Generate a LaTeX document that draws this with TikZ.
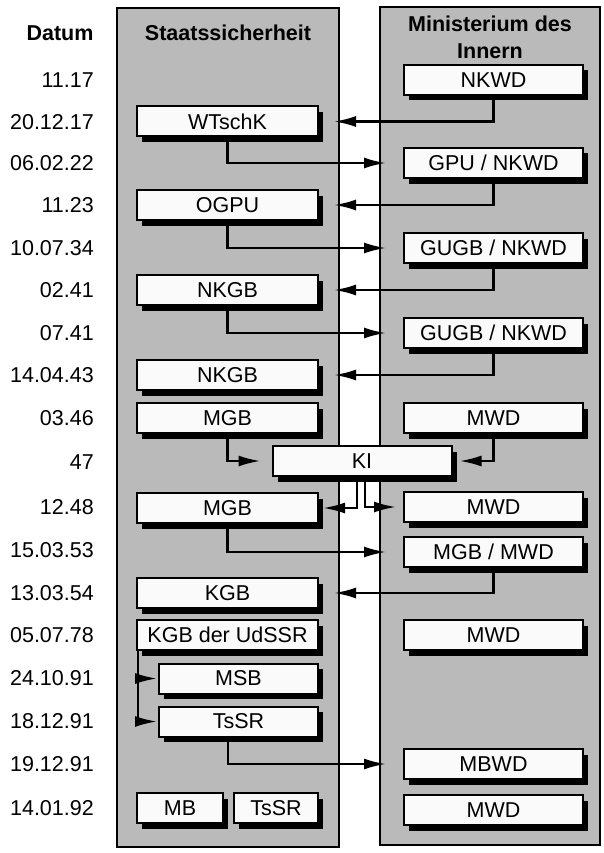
\documentclass[tikz,border=0pt]{standalone}
\usepackage{fontspec}
\setmainfont{Liberation Sans}
\usetikzlibrary{shadows,arrows.meta}
\definecolor{panelgray}{HTML}{BABABA}
\definecolor{boxwhite}{HTML}{FAFAFA}
\begin{document}
\begin{tikzpicture}[x=1pt,y=-1pt,
  panel/.style={draw=black, line width=2pt, fill=panelgray, inner sep=0pt},
  head/.style={font=\fontsize{21.5}{27}\selectfont\bfseries, align=center, inner sep=0pt},
  datelbl/.style={font=\fontsize{21.5}{24}\selectfont, anchor=east, inner sep=0pt},
  box/.style={draw=black, line width=2pt, fill=boxwhite, minimum height=30pt, inner sep=0pt,
    font=\fontsize{21.5}{24}\selectfont,
    drop shadow={shadow xshift=5pt, shadow yshift=-5.5pt, fill=black, opacity=1}},
  lbox/.style={box, minimum width=181pt},
  rbox/.style={box, minimum width=179pt},
  arr/.style={draw=black, line width=2.4pt, -{Latex[length=22pt,width=11pt]}}
]
\useasboundingbox (0,0) rectangle (603,853);
\fill[white] (0,0) rectangle (603,853);

% panels
\node[panel, minimum width=222pt, minimum height=839pt] (stasi) at (228,427.5) {};
\node[panel, minimum width=220pt, minimum height=838pt] (mdi) at (490,426) {};

% headers
\node[head] (hdatum) at (60,33) {Datum};
\node[head] (hstasi) at (228,33) {Staatssicherheit};
\node[head] (hmdi) at (490,37) {Ministerium des\\Innern};

% dates
\node[datelbl] (d1) at (94,80) {11.17};
\node[datelbl] (d2) at (94,122) {20.12.17};
\node[datelbl] (d3) at (94,163) {06.02.22};
\node[datelbl] (d4) at (94,205) {11.23};
\node[datelbl] (d5) at (94,248) {10.07.34};
\node[datelbl] (d6) at (94,290) {02.41};
\node[datelbl] (d7) at (94,333) {07.41};
\node[datelbl] (d8) at (94,375) {14.04.43};
\node[datelbl] (d9) at (94,418) {03.46};
\node[datelbl] (d10) at (94,462) {47};
\node[datelbl] (d11) at (94,507) {12.48};
\node[datelbl] (d12) at (94,550) {15.03.53};
\node[datelbl] (d13) at (94,593) {13.03.54};
\node[datelbl] (d14) at (94,635) {05.07.78};
\node[datelbl] (d15) at (94,678) {24.10.91};
\node[datelbl] (d16) at (94,721) {18.12.91};
\node[datelbl] (d17) at (94,764) {19.12.91};
\node[datelbl] (d18) at (94,808) {14.01.92};

% left boxes
\node[lbox] (wtschk) at (227.5,121.5) {WTschK};
\node[lbox] (ogpu) at (227.5,205) {OGPU};
\node[lbox] (nkgb1) at (227.5,290) {NKGB};
\node[lbox] (nkgb2) at (227.5,375) {NKGB};
\node[lbox] (mgb1) at (227.5,418) {MGB};
\node[lbox] (mgb2) at (227.5,508) {MGB};
\node[lbox] (kgb) at (227.5,593) {KGB};
\node[lbox] (kgbu) at (227.5,635) {KGB der UdSSR};
\node[box, minimum width=159pt] (msb) at (238.5,678.5) {MSB};
\node[box, minimum width=159pt] (tssr1) at (238.5,721.5) {TsSR};
\node[box, minimum width=86pt] (mb) at (180,808) {MB};
\node[box, minimum width=84pt] (tssr2) at (276,808) {TsSR};

% right boxes
\node[rbox] (nkwd) at (493.5,80) {NKWD};
\node[rbox] (gpu) at (493.5,163) {GPU / NKWD};
\node[rbox] (gugb1) at (493.5,248) {GUGB / NKWD};
\node[rbox] (gugb2) at (493.5,333) {GUGB / NKWD};
\node[rbox] (mwd1) at (493.5,418) {MWD};
\node[rbox] (mwd2) at (493.5,507) {MWD};
\node[rbox] (mgbmwd) at (493.5,552) {MGB / MWD};
\node[rbox] (mwd3) at (493.5,635) {MWD};
\node[rbox] (mbwd) at (493.5,764) {MBWD};
\node[rbox] (mwd4) at (493.5,810) {MWD};

% KI
\node[box, minimum width=179pt] (ki) at (362,461) {KI};

% connectors
\draw[arr, shorten >=15pt] (nkwd.south) |- (wtschk.east);
\draw[arr, shorten >=17pt] (wtschk.south) |- (gpu.west);
\draw[arr, shorten >=15pt] (gpu.south) |- (ogpu.east);
\draw[arr, shorten >=17pt] (ogpu.south) |- (gugb1.west);
\draw[arr, shorten >=15pt] (gugb1.south) |- (nkgb1.east);
\draw[arr, shorten >=17pt] (nkgb1.south) |- (gugb2.west);
\draw[arr, shorten >=15pt] (gugb2.south) |- (nkgb2.east);
\draw[arr, shorten >=11pt] (mgb1.south) |- (ki.west);
\draw[arr, shorten >=7pt] (mwd1.south) |- (ki.east);
\draw[arr, shorten >=4pt] ([xshift=-5pt]ki.south) |- (mgb2.east);
\draw[arr, shorten >=7pt] ([xshift=3pt]ki.south) |- (mwd2.west);
\draw[arr, shorten >=17pt] (mgb2.south) |- (mgbmwd.west);
\draw[arr, shorten >=15pt] (mgbmwd.south) |- (kgb.east);
\draw[arr, shorten >=1pt] ([xshift=2pt]kgbu.south west) |- (msb.west);
\draw[arr, shorten >=1pt] ([xshift=2pt]kgbu.south west) |- (tssr1.west);
\draw[arr, shorten >=17pt] ([xshift=-10.5pt]tssr1.south) |- (mbwd.west);
\end{tikzpicture}
\end{document}
